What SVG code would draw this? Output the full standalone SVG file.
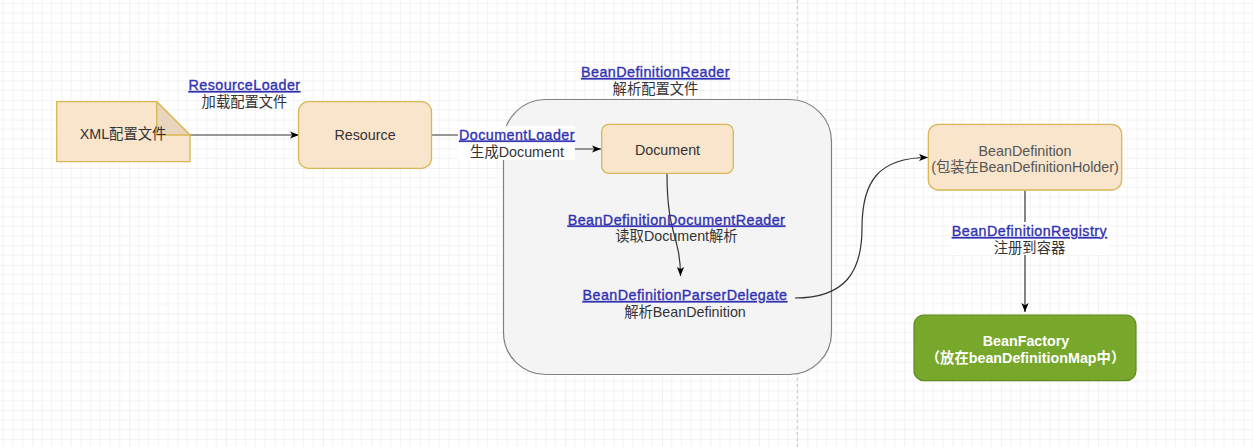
<svg xmlns="http://www.w3.org/2000/svg" width="1253" height="447" viewBox="0 0 1253 447">
  <defs>
    <pattern id="gridPat" patternUnits="userSpaceOnUse" x="32.3" y="22.7" width="48.44" height="48.44">
      <path d="M9.69,0V48.44M19.38,0V48.44M29.06,0V48.44M38.75,0V48.44M0,9.69H48.44M0,19.38H48.44M0,29.06H48.44M0,38.75H48.44" stroke="#f3f3f3" stroke-width="1" fill="none"/>
      <path d="M0,0V48.44M0,0H48.44" stroke="#e4e4e4" stroke-width="1" fill="none"/>
    </pattern>
    <marker id="arr" viewBox="0 0 10 8" refX="10" refY="4" markerWidth="9" markerHeight="7.2" markerUnits="userSpaceOnUse" orient="auto">
      <path d="M0,0 L10,4 L0,8 L2.5,4 Z" fill="#000"/>
    </marker>
    <style>
      .t { font-family: "Liberation Sans", Arial, "Noto Sans CJK SC", sans-serif; font-size: 14.3px; fill: #333; text-anchor: middle; }
      .lnk { fill: #3131b3; stroke: #3131b3; stroke-width: 0.35px; letter-spacing: 0.45px; text-decoration: underline; }
      .peach { fill: #f9e5cb; stroke: #d8b655; stroke-width: 1.3; }
      .edge { fill: none; stroke: #333; stroke-width: 1.2; }
      .lblbg { fill: #fff; }
    </style>
  </defs>

  <!-- canvas grid and page break -->
  <g id="grid">
    <rect x="0" y="0" width="1253" height="447" fill="#fff"/>
    <rect x="0" y="0" width="1253" height="447" fill="url(#gridPat)"/>
    <line x1="797.3" y1="0" x2="797.3" y2="447" stroke="#c4c4c4" stroke-width="1" stroke-dasharray="3 3"/>
  </g>

  <!-- reader container -->
  <g id="reader-group">
    <rect x="503.5" y="99.5" width="328" height="275" rx="42" ry="42" fill="#f4f4f4" stroke="#808080" stroke-width="1.2"/>
  </g>

  <g id="connectors">
    <path class="edge" d="M190,135 H299" marker-end="url(#arr)"/>
    <path class="edge" d="M432,135 H517 V149 H601" marker-end="url(#arr)"/>
    <path class="edge" d="M667,173.5 C667,236 680.5,236 680.5,276" marker-end="url(#arr)"/>
    <path class="edge" d="M795,298 C845,298 862,272 862,228 C862,182 878,157.5 928,157.5" marker-end="url(#arr)"/>
    <path class="edge" d="M1025,190.5 V312" marker-end="url(#arr)"/>

    <!-- edge labels -->
    <text class="t lnk" x="244.5" y="90">ResourceLoader</text>
    <text class="t" x="244.5" y="107">加载配置文件</text>

    <rect class="lblbg" x="458" y="126" width="117" height="34"/>
    <text class="t lnk" x="517" y="139.5">DocumentLoader</text>
    <text class="t" x="517" y="156.5">生成Document</text>

    <text class="t lnk" x="676.5" y="224.5">BeanDefinitionDocumentReader</text>
    <text class="t" x="676.5" y="241">读取Document解析</text>

    <rect class="lblbg" x="950" y="222" width="158" height="33"/>
    <text class="t lnk" x="1029.5" y="236">BeanDefinitionRegistry</text>
    <text class="t" x="1029.5" y="252.5">注册到容器</text>
  </g>

  <g id="reader-label">
    <text class="t lnk" x="655.5" y="77">BeanDefinitionReader</text>
    <text class="t" x="655.5" y="93.5">解析配置文件</text>
  </g>

  <g id="xml-file">
    <path class="peach" d="M56.7,101.7 H156.7 L190,135 V161.7 H56.7 Z"/>
    <path d="M156.7,101.7 V135 H190 Z" fill="#e8d5bb" stroke="#d8b655" stroke-width="1.3" stroke-linejoin="round"/>
    <text class="t" x="123" y="139">XML配置文件</text>
  </g>

  <g id="resource">
    <rect class="peach" x="298.5" y="101.7" width="133" height="66.6" rx="10" ry="10"/>
    <text class="t" x="365" y="140">Resource</text>
  </g>

  <g id="document">
    <rect class="peach" x="601.7" y="124.3" width="131.6" height="49" rx="7" ry="7"/>
    <text class="t" x="667.5" y="155">Document</text>
  </g>

  <g id="parser-delegate">
    <text class="t lnk" x="685" y="300">BeanDefinitionParserDelegate</text>
    <text class="t" x="685" y="316.5">解析BeanDefinition</text>
  </g>

  <g id="bean-definition">
    <rect class="peach" x="928.3" y="124.3" width="193.4" height="65.7" rx="10" ry="10"/>
    <text class="t" x="1025" y="155.5" style="fill:#555">BeanDefinition</text>
    <text class="t" x="1025" y="171.7" style="fill:#555">(包装在BeanDefinitionHolder)</text>
  </g>

  <g id="bean-factory">
    <rect x="914" y="315" width="222" height="65.7" rx="10" ry="10" fill="#77a72b" stroke="#5e8c20" stroke-width="1.2"/>
    <text class="t" x="1026" y="346" style="fill:#fff;font-weight:bold">BeanFactory</text>
    <text class="t" x="1025.5" y="362.7" style="fill:#fff;font-weight:bold">（放在beanDefinitionMap中）</text>
  </g>
</svg>
